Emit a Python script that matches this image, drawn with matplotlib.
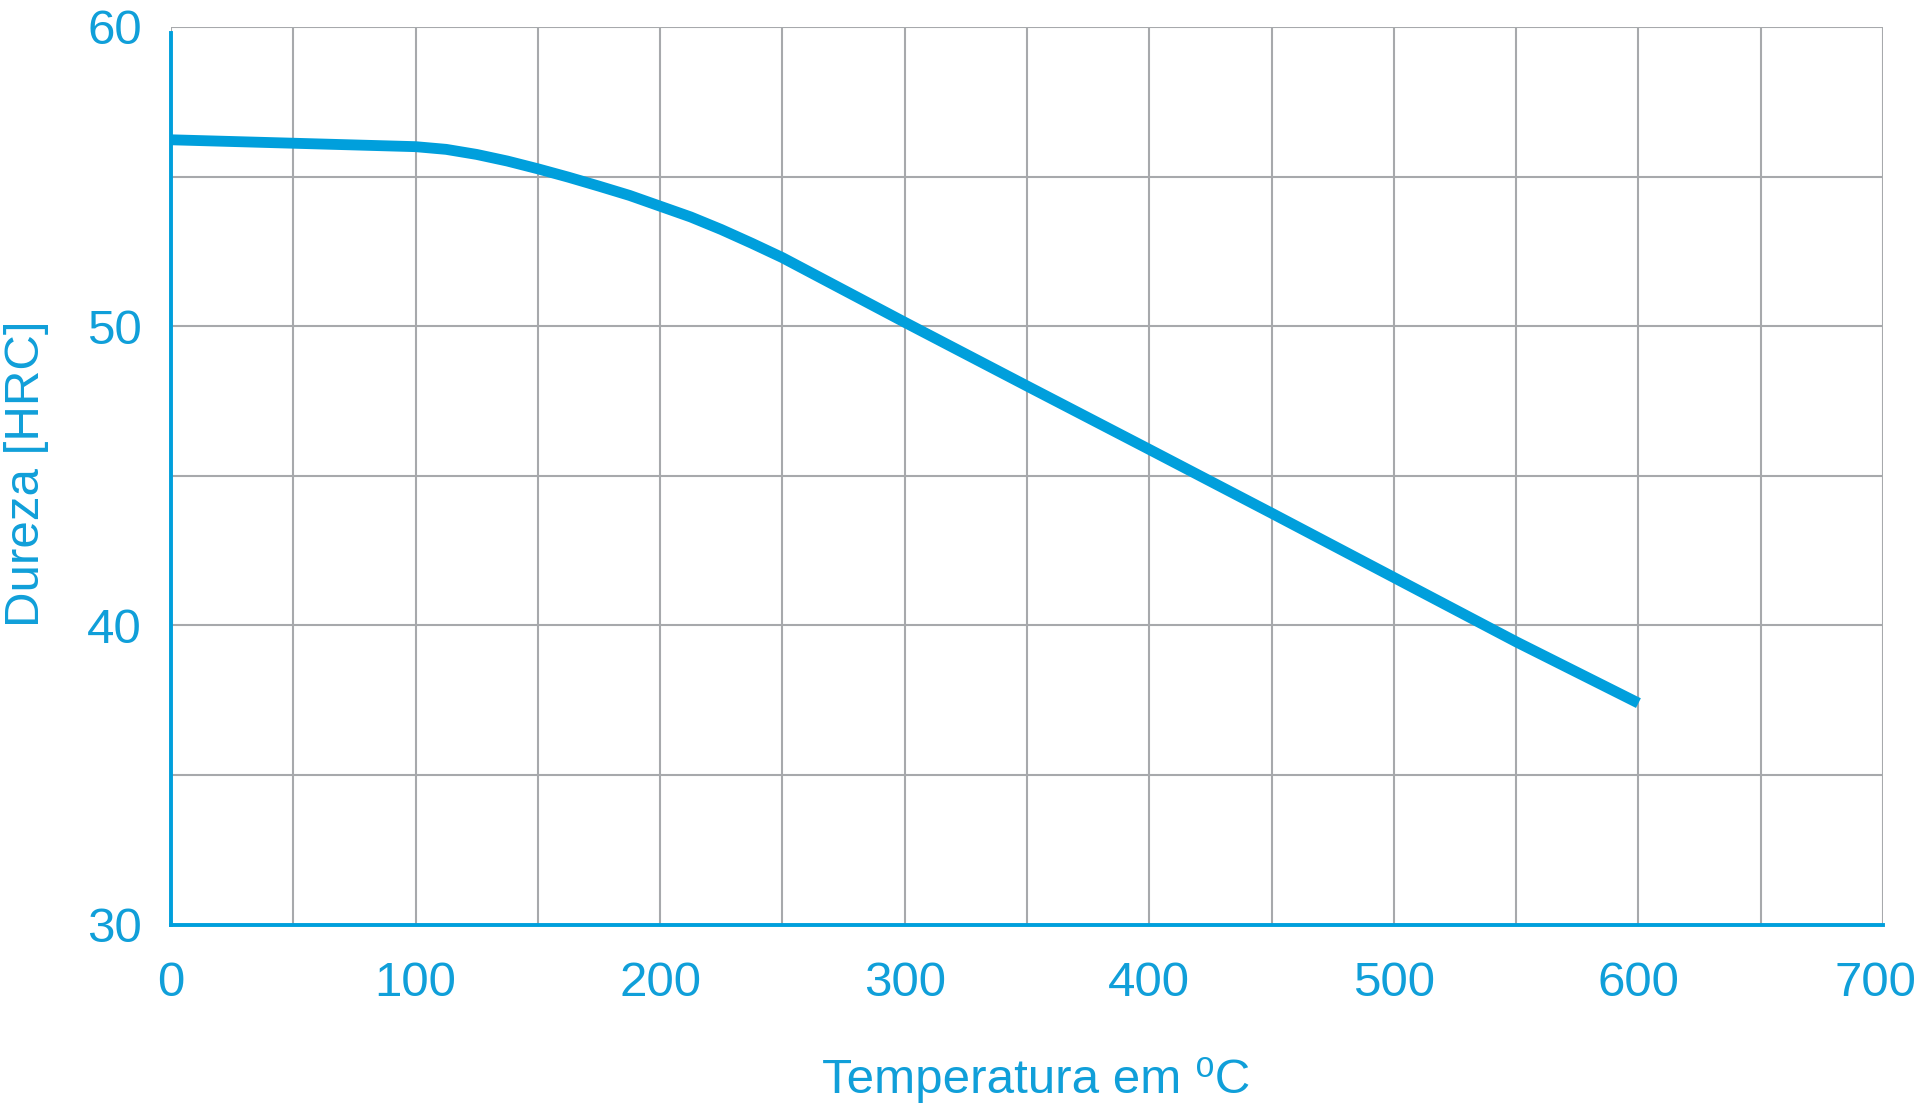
import matplotlib.pyplot as plt
from matplotlib.ticker import MultipleLocator
from matplotlib.transforms import ScaledTranslation

# temperature (C) and hardness (HRC)
temp = [0, 100, 112.5, 125, 137.5, 150, 162.5, 175, 187.5, 200, 212.5, 225, 237.5, 250,
        300, 350, 400, 450, 500, 550, 600]
hrc = [56.23, 56.0, 55.91, 55.74, 55.52, 55.26, 54.98, 54.68, 54.37, 54.01, 53.65, 53.23, 52.77, 52.29,
       50.13, 48.0, 45.88, 43.75, 41.6, 39.45, 37.4]

xticks = [0, 100, 200, 300, 400, 500, 600, 700]
yticks = [30, 40, 50, 60]

blue = "#009FDC"
text_blue = "#109FD9"
grid_gray = "#A7A9AC"
fam = ["Liberation Sans", "DejaVu Sans"]

plt.rcParams["font.family"] = fam

fig = plt.figure(figsize=(19.2, 11.12), dpi=100)
ax = fig.add_axes([171 / 1920, 1 - 924.5 / 1112, (1883 - 171) / 1920, (924.5 - 27) / 1112])

ax.plot(temp, hrc, color=blue, lw=7.8, solid_capstyle="butt", solid_joinstyle="round", zorder=3)

ax.set_xlim(0, 700)
ax.set_ylim(30, 60)
ax.set_xticks(xticks)
ax.set_yticks(yticks)
ax.xaxis.set_minor_locator(MultipleLocator(50))
ax.yaxis.set_minor_locator(MultipleLocator(5))
ax.grid(which="both", color=grid_gray, lw=1.5)
ax.set_axisbelow(True)
ax.tick_params(which="both", length=0)
ax.tick_params(axis="x", pad=26, labelsize=35.5, labelcolor=text_blue)
ax.tick_params(axis="y", pad=21, labelsize=35.5, labelcolor=text_blue)

# last x label sits a bit left of its tick so it stays inside the figure
last = ax.get_xticklabels()[-1]
last.set_transform(last.get_transform() + ScaledTranslation(-8 / 100, 0, fig.dpi_scale_trans))

for s in ["top", "right"]:
    ax.spines[s].set_visible(False)
for s in ["left", "bottom"]:
    ax.spines[s].set_color(blue)
    ax.spines[s].set_linewidth(2.8)
    ax.spines[s].set_zorder(4)
ax.spines["left"].set_bounds(30, 59.8)

fig.text(1036 / 1920, 1 - 1080 / 1112, "Temperatura em \u2070C", ha="center", va="center",
         fontsize=35.5, color=text_blue, family=fam)
fig.text(27 / 1920, 1 - 474 / 1112, "Dureza [HRC]", ha="center", va="center", rotation=90,
         fontsize=35.5, color=text_blue, family=fam)

fig.savefig("out.png", dpi=100, facecolor="white")
